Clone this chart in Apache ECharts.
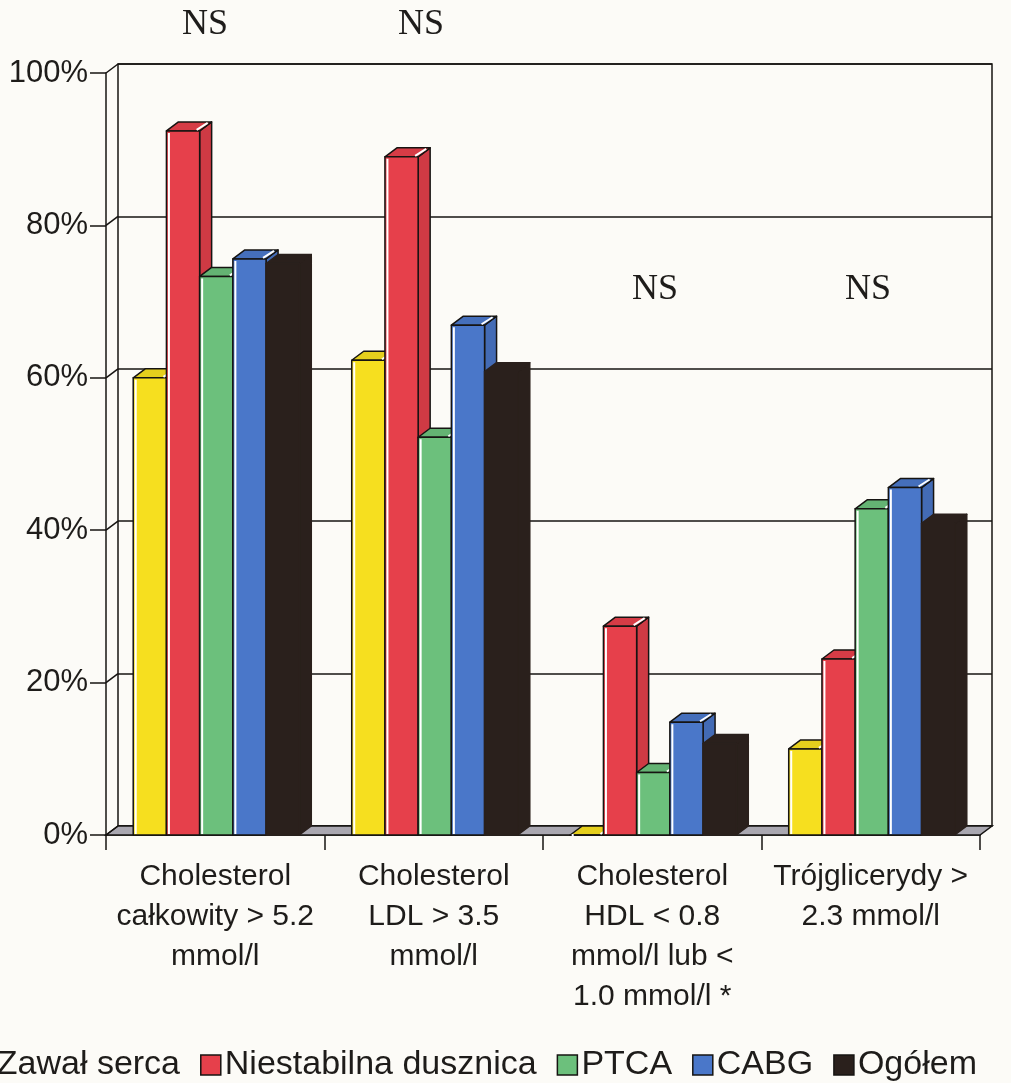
<!DOCTYPE html>
<html>
<head>
<meta charset="utf-8">
<script src="https://cdn.jsdelivr.net/npm/echarts@6/dist/echarts.min.js"></script>
<style>
  html, body { margin: 0; padding: 0; background: #fcfbf7; }
  #chart { width: 1011px; height: 1083px; }
</style>
</head>
<body>
<div id="chart"></div>
<script>
// Lipid disorders by patient group (% of patients)
const categories = [
  'Cholesterol\ncałkowity > 5.2\nmmol/l',
  'Cholesterol\nLDL > 3.5\nmmol/l',
  'Cholesterol\nHDL < 0.8\nmmol/l lub <\n1.0 mmol/l *',
  'Trójglicerydy >\n2.3 mmol/l'
];
const seriesNames = ['Zawał serca', 'Niestabilna dusznica', 'PTCA', 'CABG', 'Ogółem'];
const zawalSerca          = [60.0, 62.3, 0.0, 11.3];
const niestabilnaDusznica = [92.4, 89.0, 27.4, 23.1];
const ptca                = [73.3, 52.2, 8.2, 42.8];
const cabg                = [75.6, 66.9, 14.8, 45.6];
const ogolem              = [75.0, 60.8, 12.0, 40.9];
const yTicks = [0, 20, 40, 60, 80, 100];
const nsLabel = 'NS';

const seriesValues = [zawalSerca, niestabilnaDusznica, ptca, cabg, ogolem];
const colors = ['#f6df1f', '#e6404b', '#6cc07c', '#4a77c9', '#2a201c'];

// pseudo-3D depth of the walls, floor and columns (pixels)
const DX = 12, DY = -9;
const LINE = '#161412';

function shade(hex, f) {
  const n = parseInt(hex.slice(1), 16);
  const r = Math.round(((n >> 16) & 255) * f);
  const g = Math.round(((n >> 8) & 255) * f);
  const b = Math.round((n & 255) * f);
  return 'rgb(' + r + ',' + g + ',' + b + ')';
}

function columnRenderer(si) {
  return function (params, api) {
    const cat = api.value(0);
    const val = api.value(1);
    const band = api.size([1, 0])[0];
    const w = band * 0.152;
    const p0 = api.coord([cat, 0]);
    const base = p0[1];
    const top = api.coord([cat, val])[1];
    const x = p0[0] - 2.5 * w + si * w + 1;
    const col = colors[si];
    const dark = si === 4;
    const stroke = { stroke: dark ? col : LINE, lineWidth: 1.5, lineJoin: 'round' };
    const children = [
      { type: 'polygon', shape: { points: [[x + w, top], [x + w + DX, top + DY], [x + w + DX, base + DY], [x + w, base]] },
        style: Object.assign({ fill: dark ? col : shade(col, 0.9) }, stroke) },
      { type: 'polygon', shape: { points: [[x, top], [x + DX, top + DY], [x + w + DX, top + DY], [x + w, top]] },
        style: Object.assign({ fill: dark ? col : shade(col, 0.93) }, stroke) },
      { type: 'rect', shape: { x: x, y: top, width: w, height: base - top },
        style: Object.assign({ fill: col }, stroke) }
    ];
    if (!dark) {
      children.push(
        { type: 'line', shape: { x1: x + 2.5, y1: top + 2, x2: x + 2.5, y2: base - 1 },
          style: { stroke: '#ffffff', lineWidth: 2 } },
        { type: 'line', shape: { x1: x + w - 3, y1: top - 1, x2: x + w + DX - 4, y2: top + DY + 1 },
          style: { stroke: '#ffffff', lineWidth: 2 } }
      );
    }
    return { type: 'group', children: children };
  };
}

const columnSeries = seriesNames.map(function (name, si) {
  return {
    name: name,
    type: 'custom',
    xAxisIndex: 0,
    yAxisIndex: 0,
    z: 5,
    itemStyle: { color: colors[si] },
    renderItem: columnRenderer(si),
    data: seriesValues[si].map(function (v, ci) { return [ci, v]; })
  };
});

// gray floor of the plot box
const floorSeries = {
  type: 'custom',
  xAxisIndex: 0,
  yAxisIndex: 0,
  z: 3,
  silent: true,
  renderItem: function (params, api) {
    const cs = params.coordSys;
    const y0 = api.coord([0, 0])[1];
    const x0 = cs.x, x1 = cs.x + cs.width;
    return {
      type: 'polygon',
      shape: { points: [[x0, y0], [x1, y0], [x1 + DX, y0 + DY], [x0 + DX, y0 + DY]] },
      style: { fill: '#a9a7b0', stroke: LINE, lineWidth: 1.5 }
    };
  },
  data: [[0, 0]]
};

// gridlines running across the left side wall
const sideWallSeries = {
  type: 'custom',
  xAxisIndex: 0,
  yAxisIndex: 0,
  z: 4,
  silent: true,
  renderItem: function (params, api) {
    const cs = params.coordSys;
    const y = api.coord([0, api.value(1)])[1];
    return {
      type: 'line',
      shape: { x1: cs.x, y1: y, x2: cs.x + DX, y2: y + DY },
      style: { stroke: LINE, lineWidth: 1.5 }
    };
  },
  data: yTicks.map(function (v) { return [0, v]; })
};

const textColor = '#1e1c1a';
const sans = '"Liberation Sans", Arial, sans-serif';
const serif = '"Liberation Serif", "Times New Roman", serif';

const chart = echarts.init(document.getElementById('chart'), null, { renderer: 'canvas' });
chart.setOption({
  backgroundColor: '#fcfbf7',
  animation: false,
  grid: [
    { left: 106, right: 31, top: 73, bottom: 248 },
    { left: 106 + DX, right: 31 - DX, top: 73 + DY, bottom: 248 - DY,
      show: true, borderColor: LINE, borderWidth: 1.5, backgroundColor: 'transparent' }
  ],
  xAxis: [
    {
      gridIndex: 0,
      type: 'category',
      data: categories,
      axisLine: { lineStyle: { color: LINE, width: 1.5 } },
      axisTick: { show: true, length: 15, lineStyle: { color: LINE, width: 1.5 } },
      axisLabel: { interval: 0, margin: 22, fontSize: 30, lineHeight: 40,
                   fontFamily: sans, color: textColor, align: 'center' }
    },
    { gridIndex: 1, type: 'value', show: false, min: 0, max: 1 }
  ],
  yAxis: [
    {
      gridIndex: 0,
      type: 'value', min: 0, max: 100, interval: 20,
      axisLine: { show: true, lineStyle: { color: LINE, width: 1.5 } },
      axisTick: { show: true, length: 16, lineStyle: { color: LINE, width: 1.5 } },
      axisLabel: { formatter: '{value}%', margin: 18, fontSize: 31,
                   fontFamily: sans, color: textColor },
      splitLine: { show: false }
    },
    {
      gridIndex: 1,
      type: 'value', min: 0, max: 100, interval: 20,
      axisLine: { show: false }, axisTick: { show: false }, axisLabel: { show: false },
      splitLine: { show: true, lineStyle: { color: LINE, width: 1.5 } }
    }
  ],
  legend: {
    data: seriesNames,
    left: -33,
    top: 1043,
    icon: 'rect',
    itemWidth: 20,
    itemHeight: 20,
    itemGap: 20,
    itemStyle: { borderColor: LINE, borderWidth: 1.5 },
    textStyle: { fontSize: 34, fontFamily: sans, color: textColor, padding: [0, 0, 0, -1] }
  },
  graphic: [
    { type: 'text', left: 182, top: 7, style: { text: nsLabel, font: '36px ' + serif, fill: textColor } },
    { type: 'text', left: 398, top: 7, style: { text: nsLabel, font: '36px ' + serif, fill: textColor } },
    { type: 'text', left: 632, top: 272, style: { text: nsLabel, font: '36px ' + serif, fill: textColor } },
    { type: 'text', left: 845, top: 272, style: { text: nsLabel, font: '36px ' + serif, fill: textColor } }
  ],
  series: [floorSeries, sideWallSeries].concat(columnSeries)
});
</script>
</body>
</html>
